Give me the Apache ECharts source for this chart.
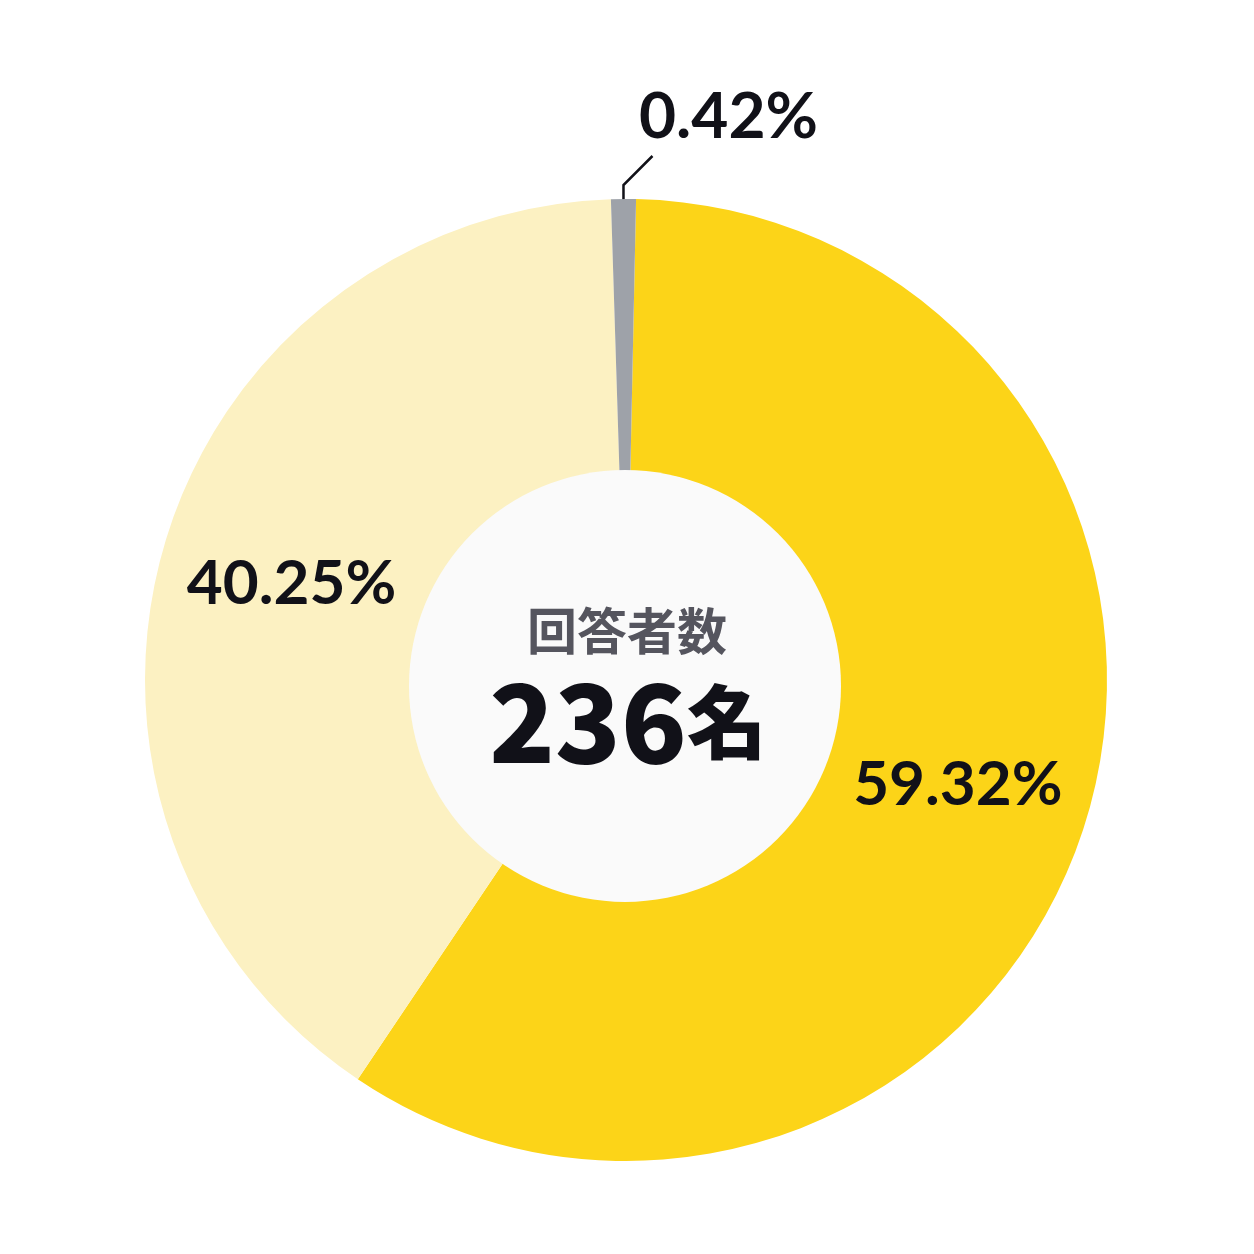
<!DOCTYPE html>
<html>
<head>
<meta charset="utf-8">
<style>
  html, body { margin: 0; padding: 0; background: #ffffff; }
  #container { width: 1254px; height: 1254px; }
</style>
<script src="https://cdn.jsdelivr.net/npm/echarts@6/dist/echarts.min.js"></script>
</head>
<body>
<div id="container"></div>
<script>
// data
var names = ['はい', 'いいえ', '無回答'];
var percents = [59.32, 40.25, 0.42];
var colors = ['#FCD418', '#FCF1C2', '#9EA2A9'];
var centerTitle = '回答者数';
var respondents = 236;

var dom = document.getElementById('container');
var myChart = echarts.init(dom, null, { renderer: 'canvas' });

var labelFont = 'Lato, "Noto Sans", sans-serif';

var option = {
  backgroundColor: '#ffffff',
  animation: false,
  graphic: [
    {
      type: 'circle',
      shape: { cx: 625, cy: 686, r: 216 },
      style: { fill: '#FAFAFA' },
      z: 10
    },
    {
      type: 'text',
      x: 627, y: 631,
      style: {
        text: centerTitle,
        fill: '#55555E',
        font: 'bold 50px "Noto Sans CJK JP", sans-serif',
        textAlign: 'center',
        textVerticalAlign: 'middle'
      },
      z: 11
    },
    {
      type: 'text',
      x: 628, y: 722,
      style: {
        text: '{n|' + respondents + '}{u|名}',
        textAlign: 'center',
        textVerticalAlign: 'middle',
        rich: {
          n: { font: '900 108px "Noto Sans CJK JP", sans-serif', fill: '#111118' },
          u: { font: '900 80px "Noto Sans CJK JP", sans-serif', fill: '#111118' }
        }
      },
      z: 11
    }
  ],
  series: [
    {
      type: 'pie',
      center: [626, 680],
      radius: [209, 481],
      startAngle: 88.8,
      clockwise: true,
      minAngle: 3,
      avoidLabelOverlap: false,
      itemStyle: { borderWidth: 0 },
      label: {
        show: true,
        position: 'inside',
        formatter: function (p) { return percents[p.dataIndex].toFixed(2) + '%'; },
        color: '#111118',
        fontFamily: labelFont,
        fontWeight: 'bold',
        fontSize: 62
      },
      labelLine: { show: false },
      labelLayout: function (params) {
        if (params.dataIndex !== 2) return {};
        var pts = params.labelLinePoints;
        if (!pts) return {};
        var ax = pts[0][0], ay = pts[0][1];
        return {
          x: ax + 105,
          y: ay - 82,
          align: 'center',
          verticalAlign: 'middle',
          labelLinePoints: [[ax, ay + 19], [ax, ay - 14], [ax + 29, ay - 43]]
        };
      },
      data: percents.map(function (v, i) {
        var item = { value: v, name: names[i], itemStyle: { color: colors[i] } };
        if (i === 2) {
          item.label = { position: 'outside', fontSize: 64 };
          item.labelLine = {
            show: true, length: 14, length2: 20, smooth: false,
            lineStyle: { color: '#111118', width: 2.5 }
          };
        }
        return item;
      })
    }
  ]
};

if (option && typeof option === 'object') {
  myChart.setOption(option);
}

window.addEventListener('resize', myChart.resize);
</script>
</body>
</html>
